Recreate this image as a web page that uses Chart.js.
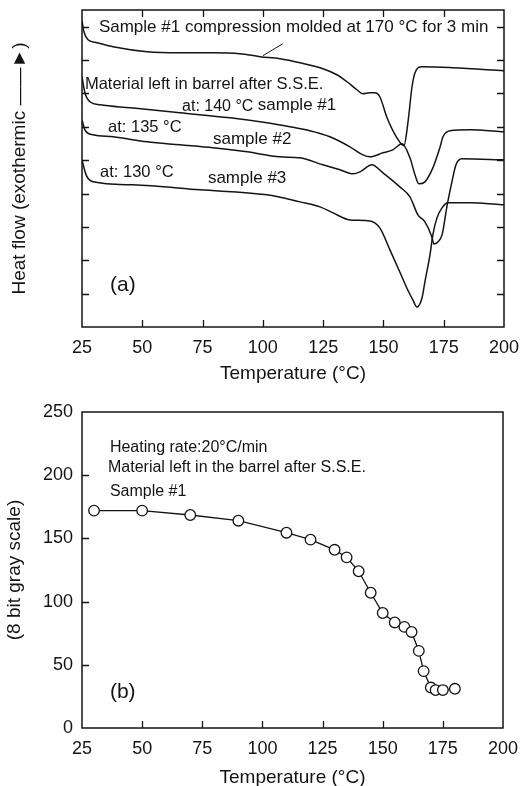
<!DOCTYPE html>
<html>
<head>
<meta charset="utf-8">
<title>DSC and gray level vs temperature</title>
<script src="https://cdn.jsdelivr.net/npm/chart.js@4.4.1/dist/chart.umd.min.js"></script>
<style>
  html, body { margin: 0; padding: 0; background: #ffffff; }
  body { width: 521px; height: 786px; position: relative; overflow: hidden; }
  canvas { position: absolute; left: 0; }
  #dsc  { top: 0; }
  #gray { top: 390px; }
</style>
</head>
<body>
<canvas id="dsc" width="521" height="390"></canvas>
<canvas id="gray" width="521" height="396"></canvas>
<script>
// ---- (a) DSC heating traces: temperature (°C) and heat flow (arbitrary units, exothermic up)
const moldedTemp = [25.0, 25.8, 27.5, 31.2, 37.9, 52.0, 65.6, 79.3, 90.5, 98.8, 107.1, 115.4, 124.9, 130.7, 134.9, 139.0, 141.5, 144.4, 146.5, 148.5, 151.5, 155.6, 158.5, 160.2, 161.8, 163.1, 166.0, 178.8, 200.0];
const moldedFlow = [9.18, 8.85, 8.61, 8.52, 8.40, 8.25, 8.22, 8.22, 8.19, 8.10, 8.04, 7.92, 7.74, 7.56, 7.35, 7.11, 6.99, 7.02, 7.02, 6.90, 6.27, 5.67, 5.43, 6.15, 7.17, 7.62, 7.80, 7.77, 7.68];

const barrel140Temp = [25.0, 26.2, 28.3, 32.5, 44.9, 65.6, 86.4, 101.7, 111.2, 119.5, 127.8, 136.1, 141.5, 144.4, 149.8, 153.9, 157.7, 161.0, 163.1, 164.7, 167.2, 170.5, 173.4, 174.7, 177.6, 185.9, 200.0];
const barrel140Flow = [7.50, 7.02, 6.75, 6.66, 6.57, 6.42, 6.27, 6.12, 6.00, 5.88, 5.70, 5.40, 5.16, 5.10, 5.22, 5.31, 5.49, 5.07, 4.56, 4.29, 4.35, 4.77, 5.37, 5.70, 5.88, 5.91, 5.85];

const barrel135Temp = [25.0, 26.2, 29.6, 37.9, 52.0, 65.6, 79.3, 93.4, 107.1, 115.4, 124.9, 132.0, 137.4, 140.3, 145.2, 149.8, 156.8, 161.0, 164.3, 167.2, 170.1, 170.9, 172.6, 174.3, 175.1, 176.3, 178.4, 180.1, 182.5, 200.0];
const barrel135Flow = [6.21, 5.91, 5.76, 5.70, 5.55, 5.46, 5.37, 5.25, 5.10, 5.07, 4.86, 4.71, 4.59, 4.65, 4.86, 4.62, 4.20, 3.90, 3.36, 3.15, 2.70, 2.49, 2.55, 2.76, 3.06, 3.60, 4.35, 4.86, 5.04, 5.01];

const barrel130Temp = [25.0, 26.7, 29.6, 46.1, 73.9, 101.7, 115.4, 123.7, 129.1, 136.1, 144.4, 148.5, 152.7, 156.8, 159.7, 162.2, 163.9, 166.0, 167.2, 169.3, 170.5, 172.2, 174.3, 176.7, 185.9, 200.0];
const barrel130Flow = [5.01, 4.56, 4.35, 4.26, 4.11, 3.96, 3.75, 3.60, 3.42, 3.21, 3.18, 2.97, 2.31, 1.65, 1.17, 0.81, 0.60, 0.87, 1.35, 2.16, 2.76, 3.27, 3.57, 3.72, 3.72, 3.66];

// ---- (b) gray level of sample #1 during heating
const grayTemp  = [30, 50, 70, 90, 110, 120, 130, 135, 140, 145, 150, 155, 159, 162, 165, 167, 170, 172, 175, 180];
const grayLevel = [172, 172, 168.5, 164, 154.5, 149, 141, 135, 124, 107, 91, 83.5, 80, 76, 61, 45, 32, 30, 30, 31];

// ---- axis ranges and tick steps
const tempRange = [25, 200];
const tempStep = 25;
const flowRange = [0, 9.5];
const flowStep = 1;
const grayRange = [0, 250];
const grayStep = 50;

const INK = '#141414';
const FONT = "'Liberation Sans', Arial, Helvetica, sans-serif";
Chart.defaults.font.family = FONT;
Chart.defaults.color = INK;

const pairs = (xs, ys) => xs.map((x, i) => ({ x, y: ys[i] }));

// Box around the plot area plus inward-pointing tick marks taken from the scales
const framePlugin = {
  id: 'frame',
  afterDatasetsDraw(chart, args, opts) {
    const { ctx, chartArea: a, scales: { x, y } } = chart;
    const len = opts.tickLength;
    ctx.save();
    ctx.strokeStyle = INK;
    ctx.lineWidth = 1.3;
    ctx.beginPath();
    x.ticks.forEach(t => {
      if (t.value <= x.min || t.value >= x.max) return;
      const px = Math.round(x.getPixelForValue(t.value)) + 0.5;
      ctx.moveTo(px, a.bottom); ctx.lineTo(px, a.bottom - len);
      if (opts.topTicks) { ctx.moveTo(px, a.top); ctx.lineTo(px, a.top + len); }
    });
    y.ticks.forEach(t => {
      if (t.value <= y.min || t.value >= y.max) return;
      if (Math.abs(t.value / opts.yStep - Math.round(t.value / opts.yStep)) > 1e-6) return;
      const py = Math.round(y.getPixelForValue(t.value)) + 0.5;
      ctx.moveTo(a.left, py); ctx.lineTo(a.left + len, py);
      if (opts.rightTicks) { ctx.moveTo(a.right, py); ctx.lineTo(a.right - len, py); }
    });
    ctx.stroke();
    ctx.lineWidth = 1.5;
    ctx.strokeRect(a.left, a.top, a.right - a.left, a.bottom - a.top);
    ctx.restore();
  }
};

// Text notes and leader lines placed in data coordinates
const notesPlugin = {
  id: 'notes',
  afterDraw(chart, args, opts) {
    const { ctx, scales: { x, y } } = chart;
    ctx.save();
    ctx.fillStyle = INK;
    ctx.strokeStyle = INK;
    ctx.textAlign = 'left';
    ctx.textBaseline = 'middle';
    (opts.items || []).forEach(n => {
      ctx.font = n.size + 'px ' + FONT;
      ctx.fillText(n.text, x.getPixelForValue(n.t), y.getPixelForValue(n.v));
    });
    ctx.lineWidth = 1;
    (opts.leaders || []).forEach(l => {
      ctx.beginPath();
      ctx.moveTo(x.getPixelForValue(l.from[0]), y.getPixelForValue(l.from[1]));
      ctx.lineTo(x.getPixelForValue(l.to[0]), y.getPixelForValue(l.to[1]));
      ctx.stroke();
    });
    ctx.restore();
  }
};

const traceStyle = {
  borderColor: INK,
  borderWidth: 1.5,
  pointRadius: 0,
  fill: false,
  cubicInterpolationMode: 'monotone'
};

const tempAxis = (height, titlePad) => ({
  type: 'linear',
  min: tempRange[0],
  max: tempRange[1],
  grid: { display: false, drawTicks: false },
  border: { display: false },
  ticks: { stepSize: tempStep, autoSkip: false, maxRotation: 0, padding: 10, font: { size: 18 }, color: INK },
  title: { display: true, text: 'Temperature (°C)', font: { size: 19, lineHeight: 1 }, color: INK, padding: { top: 0, bottom: titlePad } },
  afterFit(s) { s.height = height; s.paddingLeft = 0; s.paddingRight = 0; }
});

new Chart(document.getElementById('dsc'), {
  type: 'line',
  data: {
    datasets: [
      Object.assign({ label: 'Sample #1 compression molded at 170 °C for 3 min', data: pairs(moldedTemp, moldedFlow) }, traceStyle),
      Object.assign({ label: 'at: 140 °C sample #1', data: pairs(barrel140Temp, barrel140Flow) }, traceStyle),
      Object.assign({ label: 'at: 135 °C sample #2', data: pairs(barrel135Temp, barrel135Flow) }, traceStyle),
      Object.assign({ label: 'at: 130 °C sample #3', data: pairs(barrel130Temp, barrel130Flow) }, traceStyle)
    ]
  },
  options: {
    responsive: false,
    animation: false,
    events: [],
    devicePixelRatio: 1,
    layout: { padding: { top: 10, right: 17, bottom: 0, left: 0 } },
    scales: {
      x: tempAxis(63, 6.5),
      y: {
        type: 'linear',
        min: flowRange[0],
        max: flowRange[1],
        grid: { display: false, drawTicks: false },
        border: { display: false },
        ticks: { display: false, stepSize: flowStep },
        title: { display: true, text: 'Heat flow (exothermic ——►)', font: { size: 19, lineHeight: 1 }, color: INK, padding: { top: 10.5, bottom: 0 } },
        afterFit(s) { s.width = 82; s.paddingTop = 0; s.paddingBottom = 0; }
      }
    },
    plugins: {
      legend: { display: false },
      tooltip: { enabled: false },
      frame: { tickLength: 7, topTicks: true, rightTicks: true, yStep: flowStep },
      notes: {
        items: [
          { text: 'Sample #1 compression molded at 170 °C for 3 min', t: 32.0, v: 8.97, size: 17 },
          { text: 'Material left in barrel after S.S.E.', t: 26.2, v: 7.26, size: 16.5 },
          { text: 'at: 140 °C', t: 66.5, v: 6.60, size: 16 },
          { text: 'sample #1', t: 97.9, v: 6.63, size: 17 },
          { text: 'at: 135 °C', t: 35.8, v: 5.97, size: 16.5 },
          { text: 'sample #2', t: 79.3, v: 5.61, size: 17 },
          { text: 'at: 130 °C', t: 32.5, v: 4.62, size: 16.5 },
          { text: 'sample #3', t: 77.2, v: 4.47, size: 17 },
          { text: '(a)', t: 36.6, v: 1.26, size: 21 }
        ],
        leaders: [ { from: [108.3, 8.49], to: [100.0, 8.13] } ]
      }
    }
  },
  plugins: [framePlugin, notesPlugin]
});

new Chart(document.getElementById('gray'), {
  type: 'line',
  data: {
    datasets: [{
      label: 'Sample #1',
      data: pairs(grayTemp, grayLevel),
      borderColor: INK,
      borderWidth: 1.3,
      tension: 0,
      fill: false,
      pointRadius: 5.3,
      pointBorderWidth: 1.3,
      pointBorderColor: INK,
      pointBackgroundColor: '#ffffff'
    }]
  },
  options: {
    responsive: false,
    animation: false,
    events: [],
    devicePixelRatio: 1,
    layout: { padding: { top: 22, right: 18, bottom: 0, left: 0 } },
    scales: {
      x: tempAxis(58, -1),
      y: {
        type: 'linear',
        min: grayRange[0],
        max: grayRange[1],
        grid: { display: false, drawTicks: false },
        border: { display: false },
        ticks: { stepSize: grayStep, padding: 9, font: { size: 18 }, color: INK },
        title: { display: true, text: '(8 bit gray scale)', font: { size: 19, lineHeight: 1 }, color: INK, padding: { top: 5.5, bottom: 0 } },
        afterFit(s) { s.width = 82; s.paddingTop = 0; s.paddingBottom = 0; }
      }
    },
    plugins: {
      legend: { display: false },
      tooltip: { enabled: false },
      frame: { tickLength: 7, topTicks: false, rightTicks: false, yStep: grayStep },
      notes: {
        items: [
          { text: 'Heating rate:20°C/min', t: 36.6, v: 222, size: 16 },
          { text: 'Material left in the barrel after S.S.E.', t: 35.8, v: 205.7, size: 16 },
          { text: 'Sample #1', t: 36.6, v: 186.7, size: 16 },
          { text: '(b)', t: 36.6, v: 28.5, size: 21 }
        ]
      }
    }
  },
  plugins: [framePlugin, notesPlugin]
});
</script>
</body>
</html>
